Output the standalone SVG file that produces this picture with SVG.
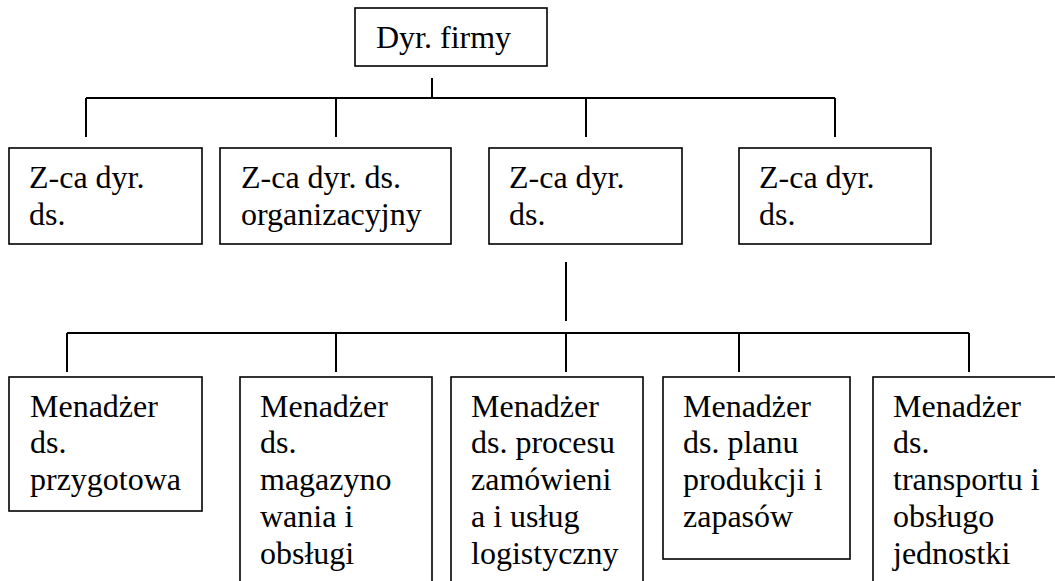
<svg xmlns="http://www.w3.org/2000/svg" width="1055" height="581" viewBox="0 0 1055 581">
<style>
.box{fill:#fff;stroke:#000;stroke-width:1.6}
.ln{stroke:#000;stroke-width:2;fill:none}
text{font-family:"Liberation Serif","Times New Roman",serif;font-size:32px;fill:#000}
</style>
<rect width="1055" height="581" fill="#fff"/>
<g id="connectors">
<path class="ln" d="M432 78V98M86 98H835M86 98V137M336 98V137M586 98V137M835 98V137"/>
<path class="ln" d="M566 262V321M67 333H969M67 333V372M336 333V372M566 333V372M739 333V372M969 333V372"/>
</g>
<g id="n-dyr"><rect class="box" x="355" y="8" width="192" height="58"/><text x="376" y="48">Dyr. firmy</text></g>
<g id="n-z1"><rect class="box" x="9" y="148" width="193" height="96"/><text x="29" y="188">Z-ca dyr.</text><text x="29" y="225">ds.</text></g>
<g id="n-z2"><rect class="box" x="220" y="148" width="231" height="96"/><text x="241" y="188">Z-ca dyr. ds.</text><text x="241" y="225">organizacyjny</text></g>
<g id="n-z3"><rect class="box" x="489" y="148" width="193" height="96"/><text x="509" y="188">Z-ca dyr.</text><text x="509" y="225">ds.</text></g>
<g id="n-z4"><rect class="box" x="739" y="148" width="192" height="96"/><text x="759" y="188">Z-ca dyr.</text><text x="759" y="225">ds.</text></g>
<g id="n-m1"><rect class="box" x="9" y="377" width="193" height="134"/><text x="30" y="417">Menadżer</text><text x="30" y="453">ds.</text><text x="30" y="490">przygotowa</text></g>
<g id="n-m2"><rect class="box" x="240" y="377" width="192" height="230"/><text x="260" y="417">Menadżer</text><text x="260" y="453">ds.</text><text x="260" y="490">magazyno</text><text x="260" y="527">wania i</text><text x="260" y="564">obsługi</text></g>
<g id="n-m3"><rect class="box" x="451" y="377" width="192" height="230"/><text x="471" y="417">Menadżer</text><text x="471" y="453">ds. procesu</text><text x="471" y="490">zamówieni</text><text x="471" y="527">a i usług</text><text x="471" y="564">logistyczny</text></g>
<g id="n-m4"><rect class="box" x="663" y="377" width="187" height="182"/><text x="683" y="417">Menadżer</text><text x="683" y="453">ds. planu</text><text x="683" y="490">produkcji i</text><text x="683" y="527">zapasów</text></g>
<g id="n-m5"><rect class="box" x="873" y="377" width="200" height="230"/><text x="893" y="417">Menadżer</text><text x="893" y="453">ds.</text><text x="893" y="490">transportu i</text><text x="893" y="527">obsługo</text><text x="893" y="564">jednostki</text></g>
</svg>
